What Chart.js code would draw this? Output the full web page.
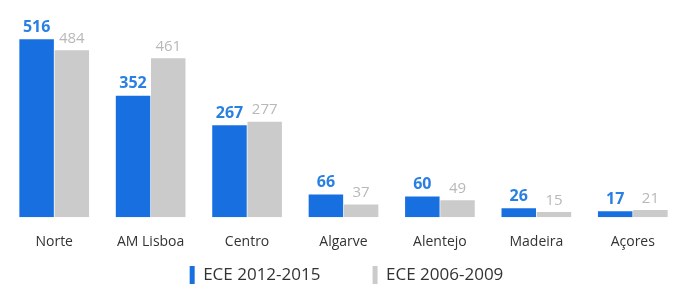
<!DOCTYPE html>
<html lang="pt">
<head>
    <meta charset="UTF-8">
    <title>ECE por região</title>
    <script src="https://cdn.jsdelivr.net/npm/chart.js"></script>
    <style>
        html, body { margin: 0; padding: 0; background: #ffffff; }
        #wrap { width: 681px; height: 294px; position: relative; }
    </style>
</head>
<body>
    <div id="wrap"><canvas id="regionChart"></canvas></div>

    <script>
        // data
        const regions = ["Norte", "AM Lisboa", "Centro", "Algarve", "Alentejo", "Madeira", "Açores"];
        const ece2012 = [516, 352, 267, 66, 60, 26, 17];
        const ece2006 = [484, 461, 277, 37, 49, 15, 21];
        const seriesNames = ["ECE 2012-2015", "ECE 2006-2009"];

        const blue = "#1870e0";
        const grey = "#cbcbcb";

        // value labels above each bar
        const barLabels = {
            id: "barLabels",
            afterDatasetsDraw(chart) {
                const ctx = chart.ctx;
                ctx.save();
                ctx.textAlign = "center";
                ctx.textBaseline = "bottom";
                chart.data.datasets.forEach((ds, i) => {
                    const meta = chart.getDatasetMeta(i);
                    meta.data.forEach((bar, j) => {
                        if (i === 0) {
                            ctx.font = "bold 16px 'Open Sans', sans-serif";
                            ctx.fillStyle = "#2a80e2";
                        } else {
                            ctx.font = "15px 'Open Sans', sans-serif";
                            ctx.fillStyle = "#b8b8b8";
                        }
                        ctx.fillText(ds.data[j], bar.x, bar.y - 4);
                    });
                });
                ctx.restore();
            }
        };

        new Chart(document.getElementById("regionChart"), {
            type: "bar",
            data: {
                labels: regions,
                datasets: [
                    { label: seriesNames[0], data: ece2012, backgroundColor: blue },
                    { label: seriesNames[1], data: ece2006, backgroundColor: grey }
                ]
            },
            options: {
                responsive: true,
                maintainAspectRatio: false,
                animation: false,
                layout: { padding: { left: 6, right: -6, top: 0, bottom: 0 } },
                datasets: {
                    bar: { categoryPercentage: 0.73, barPercentage: 0.98 }
                },
                scales: {
                    x: {
                        grid: { display: false },
                        border: { display: false },
                        ticks: {
                            color: "#333333",
                            font: { family: "'Open Sans', sans-serif", size: 14 },
                            padding: 8
                        }
                    },
                    y: {
                        display: false,
                        min: 0,
                        max: 630
                    }
                },
                plugins: {
                    legend: {
                        position: "bottom",
                        labels: {
                            boxWidth: 5,
                            boxHeight: 18,
                            padding: 8,
                            color: "#333333",
                            font: { family: "'Open Sans', sans-serif", size: 17 },
                            // wider gap between the two entries
                            generateLabels(chart) {
                                const items = Chart.defaults.plugins.legend.labels.generateLabels(chart);
                                items[0].text = items[0].text + "          ";
                                return items;
                            }
                        }
                    },
                    tooltip: { enabled: false }
                }
            },
            plugins: [barLabels]
        });
    </script>
</body>
</html>
